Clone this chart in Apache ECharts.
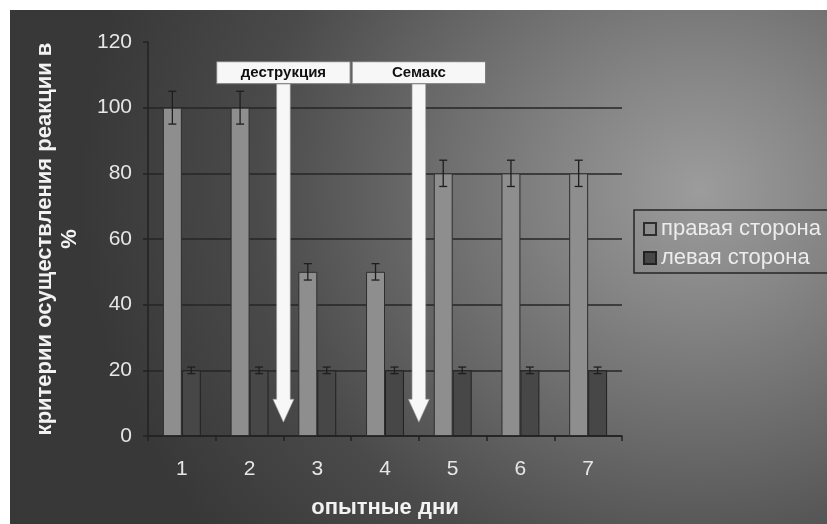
<!DOCTYPE html>
<html>
<head>
<meta charset="utf-8">
<script src="https://cdn.jsdelivr.net/npm/echarts@6/dist/echarts.min.js"></script>
<style>
  html, body { margin: 0; padding: 0; background: #ffffff; }
  #bg { position: absolute; left: 10px; top: 10px; width: 817px; height: 514px;
        background: radial-gradient(ellipse 620px 560px at 690px 180px, #9c9c9c 0%, #858585 22%, #6a6a6a 45%, #4a4a4a 72%, #383838 100%); }
  #chart { position: absolute; left: 0; top: 0; width: 827px; height: 524px; }
</style>
</head>
<body>
<div id="bg"></div>
<div id="chart"></div>
<script>
// ---- data ----
const categories = ['1', '2', '3', '4', '5', '6', '7'];
const rightSide = [100, 100, 50, 50, 80, 80, 80];      // правая сторона
const rightErr  = [5, 5, 2.5, 2.5, 4, 4, 4];
const leftSide  = [20, 20, 20, 20, 20, 20, 20];        // левая сторона
const leftErr   = [1, 1, 1, 1, 1, 1, 1];
const yTicks    = [0, 20, 40, 60, 80, 100, 120];
const seriesNames = ['правая сторона', 'левая сторона'];
const xTitle = 'опытные дни';
const yTitle = 'критерии осуществления реакции в\n%';
// annotations: label, arrow placed after this category
const annoLabels = ['деструкция', 'Семакс'];
const annoAfter  = ['2', '4'];
const annoBoxTop = 114, annoBoxBottom = 107.3, annoHeadStart = 11.2, annoTip = 4.2;

const FONT = 'Liberation Sans, Arial, sans-serif';
const chart = echarts.init(document.getElementById('chart'), null, { renderer: 'canvas' });

function errSeries(name, vals, errs, off) {
  return {
    type: 'custom',
    name: name,
    z: 5,
    data: vals.map((v, i) => [i, v, errs[i]]),
    renderItem: function (params, api) {
      const i = api.value(0), v = api.value(1), e = api.value(2);
      const bw = api.size([1, 0])[0];
      const c = api.coord([i, v]);
      const x = c[0] + off * bw;
      const hi = api.coord([i, v + e])[1];
      const lo = api.coord([i, v - e])[1];
      const cap = 4;
      const st = { stroke: '#1e1e1e', lineWidth: 1.3 };
      return { type: 'group', children: [
        { type: 'line', shape: { x1: x, y1: hi, x2: x, y2: lo }, style: st },
        { type: 'line', shape: { x1: x - cap, y1: hi, x2: x + cap, y2: hi }, style: st },
        { type: 'line', shape: { x1: x - cap, y1: lo, x2: x + cap, y2: lo }, style: st }
      ]};
    }
  };
}

const option = {
  animation: false,
  backgroundColor: 'transparent',
  textStyle: { fontFamily: FONT },
  grid: { left: 148, top: 42, width: 474, height: 395 },
  legend: {
    data: seriesNames,
    orient: 'vertical',
    left: 634, top: 210,
    padding: [8, 8, 4, 9],
    itemGap: 7,
    itemWidth: 12, itemHeight: 12,
    icon: 'rect',
    borderColor: '#262626', borderWidth: 1.5,
    textStyle: { color: '#ececec', fontSize: 22, fontFamily: FONT }
  },
  xAxis: {
    type: 'category',
    data: categories,
    name: xTitle,
    nameLocation: 'middle',
    nameGap: 61,
    nameTextStyle: { color: '#f2f2f2', fontSize: 22, fontWeight: 'bold', fontFamily: FONT },
    axisLine: { lineStyle: { color: '#222', width: 1.5 } },
    axisTick: { show: true, length: 5, lineStyle: { color: '#222', width: 1.5 } },
    axisLabel: { color: '#e6e6e6', fontSize: 21, margin: 23, fontFamily: FONT },
    splitLine: { show: false }
  },
  yAxis: {
    type: 'value',
    min: yTicks[0], max: yTicks[yTicks.length - 1], interval: 20,
    name: yTitle,
    nameLocation: 'middle',
    nameRotate: 90,
    nameGap: 66,
    nameTextStyle: { color: '#f2f2f2', fontSize: 22, fontWeight: 'bold', lineHeight: 25, fontFamily: FONT, align: 'center' },
    axisLine: { show: true, lineStyle: { color: '#222', width: 1.5 } },
    axisTick: { show: true, length: 5, lineStyle: { color: '#222', width: 1.5 } },
    axisLabel: { color: '#e6e6e6', fontSize: 21, margin: 16, fontFamily: FONT },
    splitLine: { show: true, lineStyle: { color: ['#262626', '#262626', '#262626', '#262626', '#262626', '#262626', 'rgba(0,0,0,0)'], width: 1.5 } }
  },
  series: [
    { type: 'bar', name: seriesNames[0], data: rightSide, barGap: '0%', barCategoryGap: '44%',
      itemStyle: { color: '#8e8e8e', borderColor: '#2e2e2e', borderWidth: 1 } },
    { type: 'bar', name: seriesNames[1], data: leftSide, barGap: '0%', barCategoryGap: '44%',
      itemStyle: { color: '#474747', borderColor: '#222', borderWidth: 1 } },
    errSeries('errR', rightSide, rightErr, -0.14),
    errSeries('errL', leftSide, leftErr, 0.14)
  ]
};
chart.setOption(option);

// annotation arrows positioned via the axes
const c0 = chart.convertToPixel({ xAxisIndex: 0 }, categories[0]);
const c1 = chart.convertToPixel({ xAxisIndex: 0 }, categories[1]);
const bw = c1 - c0;
const yTop = chart.convertToPixel({ yAxisIndex: 0 }, annoBoxTop);
const yBot = chart.convertToPixel({ yAxisIndex: 0 }, annoBoxBottom);
const yHead = chart.convertToPixel({ yAxisIndex: 0 }, annoHeadStart);
const yTip = chart.convertToPixel({ yAxisIndex: 0 }, annoTip);
const graphics = [];
annoLabels.forEach((lab, k) => {
  const ci = categories.indexOf(annoAfter[k]);
  const xa = chart.convertToPixel({ xAxisIndex: 0 }, categories[ci]);
  const x = xa + bw / 2;
  const sw = 6.8, hw = 10.5;
  graphics.push({
    type: 'polygon', z: 100,
    shape: { points: [[x - sw, yBot], [x + sw, yBot], [x + sw, yHead], [x + hw, yHead], [x, yTip], [x - hw, yHead], [x - sw, yHead]] },
    style: { fill: '#f7f7f7', stroke: '#9a9a9a', lineWidth: 0.6 }
  });
  graphics.push({
    type: 'rect', z: 101,
    shape: { x: x - bw + 1, y: yTop, width: 2 * bw - 2, height: yBot - yTop },
    style: { fill: '#f7f7f7', stroke: '#7a7a7a', lineWidth: 1 }
  });
  graphics.push({
    type: 'text', z: 102,
    x: x, y: (yTop + yBot) / 2,
    style: { text: lab, fill: '#111', font: 'bold 15px ' + FONT, textAlign: 'center', textVerticalAlign: 'middle' }
  });
});
chart.setOption({ graphic: graphics });
</script>
</body>
</html>
